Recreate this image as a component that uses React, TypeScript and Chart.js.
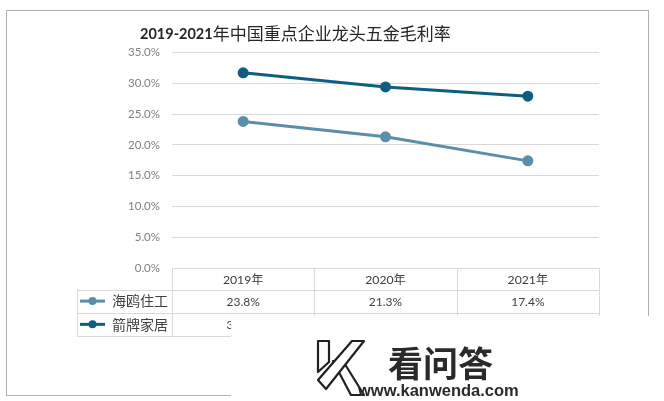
import React, { useEffect, useRef } from "react";
import { Chart, registerables } from "chart.js";

Chart.register(...registerables);

const TITLE = "2019-2021年中国重点企业龙头五金毛利率";
const categories = ["2019年", "2020年", "2021年"];
const seriesNames = ["海鸥住工", "箭牌家居"];
const haiou = [23.8, 21.3, 17.4];
const jianpai = [31.7, 29.4, 27.9];
const seriesColors = ["#5b8fa8", "#0f5e80"];
const yTicks = [0, 5, 10, 15, 20, 25, 30, 35];
const WATERMARK_CN = "看问答";
const WATERMARK_URL = "www.kanwenda.com";

const GRID = "#d9d9d9";
const TEXT = "#404040";

const decorPlugin = {
  id: "decor",
  beforeDraw(chart: any) {
    const { ctx, width, height } = chart;
    ctx.save();
    ctx.fillStyle = "#ffffff";
    ctx.fillRect(0, 0, width, height);
    ctx.strokeStyle = "#b0b0b0";
    ctx.lineWidth = 1;
    ctx.strokeRect(6.5, 10.5, 642, 385);
    const m = TITLE.match(/^([0-9\-]+)(.*)$/);
    const a = m ? m[1] : "";
    const b = m ? m[2] : TITLE;
    ctx.fillStyle = "#262626";
    ctx.textBaseline = "alphabetic";
    ctx.textAlign = "left";
    ctx.font = "bold 14.5px Lato";
    ctx.fillText(a, 140, 39);
    const w = ctx.measureText(a).width;
    ctx.font = '17px "Noto Sans CJK SC"';
    ctx.fillText(b, 140 + w, 39.5);
    ctx.restore();
  },
  afterDraw(chart: any) {
    const { ctx } = chart;
    const xs = chart.scales.x;
    const n = categories.length;
    const half = (xs.getPixelForValue(1) - xs.getPixelForValue(0)) / 2;
    const colEdges: number[] = [];
    for (let i = 0; i < n; i++) colEdges.push(xs.getPixelForValue(i) - half);
    colEdges.push(xs.getPixelForValue(n - 1) + half);
    const left = 77;
    const rows = [268, 289.5, 312.7, 336];
    ctx.save();
    ctx.strokeStyle = GRID;
    ctx.lineWidth = 1;
    const hl = (x1: number, x2: number, y: number) => {
      ctx.beginPath();
      ctx.moveTo(x1, Math.round(y) + 0.5);
      ctx.lineTo(x2, Math.round(y) + 0.5);
      ctx.stroke();
    };
    const vl = (x: number, y1: number, y2: number) => {
      ctx.beginPath();
      ctx.moveTo(Math.round(x) + 0.5, y1);
      ctx.lineTo(Math.round(x) + 0.5, y2);
      ctx.stroke();
    };
    hl(colEdges[0], colEdges[n], rows[0]);
    for (let r = 1; r < rows.length; r++) hl(left, colEdges[n], rows[r]);
    vl(left, rows[1], rows[3] + 1);
    for (const x of colEdges) vl(x, rows[0], rows[3] + 1);

    ctx.textAlign = "center";
    ctx.textBaseline = "middle";
    ctx.fillStyle = TEXT;
    ctx.font = '12.2px Lato, "Noto Sans CJK SC"';
    categories.forEach((c, i) => {
      ctx.fillText(c, xs.getPixelForValue(i), (rows[0] + rows[1]) / 2 + 1);
    });
    const data = [haiou, jianpai];
    data.forEach((vals, r) => {
      const cy = (rows[r + 1] + rows[r + 2]) / 2;
      ctx.fillStyle = TEXT;
      ctx.textAlign = "center";
      ctx.font = "12px Lato";
      vals.forEach((v, i) => ctx.fillText(v.toFixed(1) + "%", xs.getPixelForValue(i), cy + 1));
      ctx.strokeStyle = seriesColors[r];
      ctx.lineWidth = 3;
      ctx.beginPath();
      ctx.moveTo(80, cy);
      ctx.lineTo(105, cy);
      ctx.stroke();
      ctx.fillStyle = seriesColors[r];
      ctx.beginPath();
      ctx.arc(92.5, cy, 4, 0, Math.PI * 2);
      ctx.fill();
      ctx.fillStyle = TEXT;
      ctx.textAlign = "left";
      ctx.font = '14px "Noto Sans CJK SC"';
      ctx.fillText(seriesNames[r], 112, cy);
    });

    // watermark overlay
    ctx.fillStyle = "#ffffff";
    ctx.fillRect(231, 316, 664 - 231, 401 - 316);
    ctx.strokeStyle = "#222222";
    ctx.lineWidth = 2.2;
    ctx.lineJoin = "round";
    const shape = (pts: number[][]) => {
      ctx.beginPath();
      ctx.moveTo(pts[0][0], pts[0][1]);
      for (let i = 1; i < pts.length; i++) ctx.lineTo(pts[i][0], pts[i][1]);
      ctx.closePath();
      ctx.fillStyle = "#ffffff";
      ctx.fill();
      ctx.stroke();
    };
    // stem
    shape([[318, 341], [329, 341], [329, 362], [318, 372]]);
    // lower leg
    shape([[333, 361], [343, 361], [364, 395], [351, 395]]);
    // arm
    shape([[352, 341], [364, 341], [326, 389], [318, 380]]);
    ctx.fillStyle = "#2a2a2a";
    ctx.textAlign = "left";
    ctx.textBaseline = "alphabetic";
    ctx.font = 'bold 35px "Noto Sans CJK SC"';
    ctx.fillText(WATERMARK_CN, 388, 377);
    ctx.font = "bold 16.5px 'Liberation Sans'";
    ctx.fillText(WATERMARK_URL, 358, 396);
    ctx.restore();
  },
};

export default function App() {
  const ref = useRef<HTMLCanvasElement | null>(null);
  useEffect(() => {
    if (!ref.current) return;
    const chart = new Chart(ref.current, {
      type: "line",
      data: {
        labels: categories,
        datasets: [
          {
            label: seriesNames[0],
            data: haiou,
            borderColor: seriesColors[0],
            backgroundColor: seriesColors[0],
            borderWidth: 3,
            pointRadius: 4,
            pointBackgroundColor: seriesColors[0],
            pointBorderColor: seriesColors[0],
            tension: 0,
          },
          {
            label: seriesNames[1],
            data: jianpai,
            borderColor: seriesColors[1],
            backgroundColor: seriesColors[1],
            borderWidth: 3,
            pointRadius: 4,
            pointBackgroundColor: seriesColors[1],
            pointBorderColor: seriesColors[1],
            tension: 0,
          },
        ],
      },
      options: {
        responsive: false,
        animation: false,
        devicePixelRatio: 1,
        layout: { padding: { left: 0, right: 65, top: 52.5, bottom: 133 } },
        plugins: {
          legend: { display: false },
          title: { display: false },
          tooltip: { enabled: false },
        },
        scales: {
          x: { display: false, offset: true },
          y: {
            min: yTicks[0],
            max: yTicks[yTicks.length - 1],
            afterFit: (s: any) => {
              s.width = 172;
            },
            afterBuildTicks: (s: any) => {
              s.ticks = yTicks.map((v) => ({ value: v }));
            },
            grid: { color: GRID, drawTicks: false, lineWidth: 1 },
            border: { display: false },
            ticks: {
              padding: 12,
              color: "#7f7f7f",
              font: { family: "Lato", size: 11.5 },
              callback: (v: any) => Number(v).toFixed(1) + "%",
            },
          },
        },
      },
      plugins: [decorPlugin],
    });
    return () => chart.destroy();
  }, []);
  return (
    <div style={{ position: "fixed", left: 0, top: 0, width: 664, height: 401 }}>
      <canvas ref={ref} width={664} height={401} style={{ width: 664, height: 401 }} />
    </div>
  );
}
